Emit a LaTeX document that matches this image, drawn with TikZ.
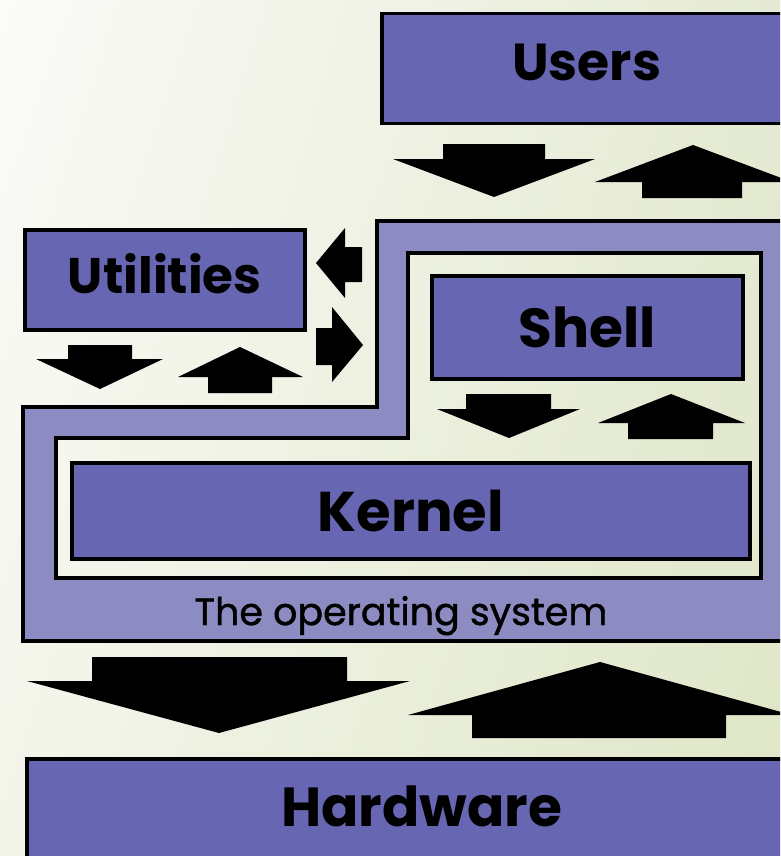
\documentclass[tikz,border=0pt]{standalone}
\usepackage{fontspec}
\setmainfont{Poppins}
\newfontfamily\osfont{Poppins}[FakeBold=1.2]
\usetikzlibrary{shadings}
\definecolor{boxblue}{RGB}{102,102,178}
\definecolor{osband}{RGB}{140,140,194}
\definecolor{bgUL}{RGB}{251,251,248}
\definecolor{bgUR}{RGB}{229,234,212}
\definecolor{bgLL}{RGB}{243,245,234}
\definecolor{bgLR}{RGB}{222,230,198}

\begin{document}
\begin{tikzpicture}[x=1pt,y=-1pt,
  layer/.style={draw=black, line width=3.5pt, fill=boxblue, inner sep=0pt,
                anchor=north west, font=\bfseries\fontsize{52}{60}\selectfont},
  blockarrow/.style={fill=black}]

\useasboundingbox (0,0) rectangle (780,856);
\clip (0,0) rectangle (780,856);
\shade[upper left=bgUL, upper right=bgUR, lower left=bgLL, lower right=bgLR]
  (0,0) rectangle (780,856);

% operating system band
\filldraw[fill=osband, draw=black, line width=3.5pt, even odd rule]
  (23,407) -- (377,407) -- (377,221) -- (800,221) -- (800,641) -- (23,641) -- cycle
  (408,253) -- (761,253) -- (761,578) -- (56,578) -- (56,438) -- (408,438) -- cycle;
\node (oslabel) at (401,625) [anchor=base, font=\osfont\fontsize{38}{44}\selectfont] {The operating system};

% layers
\node (users) at (380,12) [layer, minimum width=410pt, minimum height=110pt, text depth=14pt] {Users};
\node (utilities) at (23,228) [layer, minimum width=280pt, minimum height=100pt, text depth=12pt, font=\bfseries\fontsize{50}{60}\selectfont] {Utilities};
\node (shell) at (430,274) [layer, minimum width=311pt, minimum height=103pt, font=\bfseries\fontsize{55}{60}\selectfont] {Shell};
\node (kernel) at (70,461) [layer, minimum width=678pt, minimum height=96pt, font=\bfseries\fontsize{56}{60}\selectfont] {Kernel};
\node (hardware) at (25,757) [layer, minimum width=790pt, minimum height=110pt, text depth=16pt, font=\bfseries\fontsize{55}{60}\selectfont] {Hardware};

% users <-> shell
\fill[blockarrow] (443,144) -- (545,144) -- (545,159) -- (595,159) -- (494,197) -- (393,159) -- (443,159) -- cycle;
\fill[blockarrow] (693,145) -- (792,182) -- (742,182) -- (742,198) -- (642,198) -- (642,182) -- (595,182) -- cycle;

% utilities <-> shell
\fill[blockarrow] (316,263) -- (345,228) -- (345,247) -- (362,247) -- (362,282) -- (345,282) -- (345,298) -- cycle;
\fill[blockarrow] (363,345) -- (332,382) -- (332,365) -- (316,365) -- (316,328) -- (332,328) -- (332,307) -- cycle;

% utilities <-> kernel
\fill[blockarrow] (68,345) -- (132,345) -- (132,359) -- (163,359) -- (100,389) -- (36,359) -- (68,359) -- cycle;
\fill[blockarrow] (240,347) -- (303,377) -- (272,377) -- (272,393) -- (208,393) -- (208,377) -- (178,377) -- cycle;

% shell <-> kernel
\fill[blockarrow] (466,394) -- (551,394) -- (551,409) -- (580,409) -- (509,438) -- (437,409) -- (466,409) -- cycle;
\fill[blockarrow] (671,394) -- (745,423) -- (713,423) -- (713,439) -- (628,439) -- (628,423) -- (598,423) -- cycle;

% kernel <-> hardware
\fill[blockarrow] (92,657) -- (347,657) -- (347,681) -- (410,681) -- (219,733) -- (27,681) -- (92,681) -- cycle;
\fill[blockarrow] (600,662) -- (792,715) -- (726,715) -- (726,738) -- (472,738) -- (472,715) -- (408,715) -- cycle;

\end{tikzpicture}
\end{document}
